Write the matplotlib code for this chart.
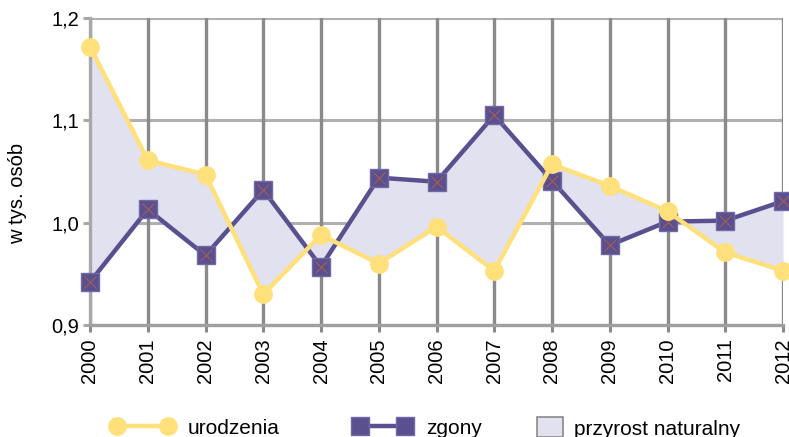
import matplotlib
matplotlib.use("Agg")
import matplotlib.pyplot as plt
from matplotlib.lines import Line2D
from matplotlib.patches import Patch

plt.rcParams['font.family'] = ['Liberation Sans', 'DejaVu Sans']

years = [2000, 2001, 2002, 2003, 2004, 2005, 2006, 2007, 2008, 2009, 2010, 2011, 2012]
urodzenia = [1.172, 1.061, 1.047, 0.930, 0.988, 0.960, 0.996, 0.953, 1.057, 1.036, 1.011, 0.971, 0.953]
zgony = [0.942, 1.013, 0.968, 1.032, 0.957, 1.044, 1.040, 1.105, 1.041, 0.978, 1.001, 1.002, 1.021]
yticks = [0.9, 1.0, 1.1, 1.2]
ytick_labels = ["0,9", "1,0", "1,1", "1,2"]
legend_labels = ["urodzenia", "zgony", "przyrost naturalny"]

yellow = "#FFE07A"
purple = "#5A5090"
fillc = "#E1E1EF"

W, H = 789, 437
fig = plt.figure(figsize=(W / 100, H / 100), dpi=100)
ax = fig.add_axes([90 / W, 1 - 325 / H, (783 - 90) / W, (325 - 18) / H])

ax.set_xlim(2000, 2012)
ax.set_ylim(0.9, 1.2)

for y in yticks:
    ax.axhline(y, color="#B0B0B0", lw=2.2, zorder=1)
for x in years:
    ax.axvline(x, color="#8A8A8A", lw=2.4, zorder=1)

ax.fill_between(years, urodzenia, zgony, color=fillc, zorder=2, lw=0)

ax.plot(years, zgony, color=purple, lw=3.2, marker='s', ms=12.5,
        mfc=purple, mec="#6F6AA5", mew=1, zorder=4, clip_on=False)
ax.plot(years, zgony, ls='none', marker='x', ms=9, mec="#C0603A", mew=0.6, zorder=5, clip_on=False)
ax.plot(years, urodzenia, color=yellow, lw=3.2, marker='o', ms=12.5,
        mfc=yellow, mec=yellow, zorder=6, clip_on=False)

for s in ["top", "right"]:
    ax.spines[s].set_visible(False)
ax.spines["left"].set_color("#A8A8A8")
ax.spines["left"].set_linewidth(2.4)
ax.spines["bottom"].set_color("#A0A0A0")
ax.spines["bottom"].set_linewidth(2.4)

ax.set_yticks(yticks)
ax.set_yticklabels(ytick_labels, fontsize=14.5)
ax.set_xticks(years)
ax.set_xticklabels([str(y) for y in years], rotation=90, fontsize=14.5)
ax.tick_params(axis='y', length=5, width=2.2, color="#A8A8A8", pad=3)
ax.tick_params(axis='x', length=5, width=2.2, color="#8A8A8A", pad=4.5)
ax.set_ylabel("w tys. osób", fontsize=14.5)
ax.yaxis.set_label_coords((27 - 90) / (783 - 90), (325 - 193) / (325 - 18))

fs = 15
handles = [
    Line2D([0], [0], color=yellow, lw=3.2, marker='o', ms=12.5, mfc=yellow, mec=yellow),
    Line2D([0], [0], color=purple, lw=3.2, marker='s', ms=12.5, mfc=purple, mec="#6F6AA5"),
    Patch(facecolor=fillc, edgecolor="#8A8A8A", lw=1.2),
]
specs = [  # left px, handlelength, handleheight, textpad
    (111, 3.05, 0.7, 0.65),
    (354, 2.75, 0.7, 0.7),
    (537, 1.25, 1.1, 0.55),
]
for h, lab, (lx, hl, hh, tp) in zip(handles, legend_labels, specs):
    fig.legend([h], [lab], loc='center left', bbox_to_anchor=(lx / W, (H - 428) / H),
               frameon=False, fontsize=fs, numpoints=2, handlelength=hl,
               handleheight=hh, handletextpad=tp, borderpad=0, borderaxespad=0)

fig.savefig("out.png", dpi=100)
